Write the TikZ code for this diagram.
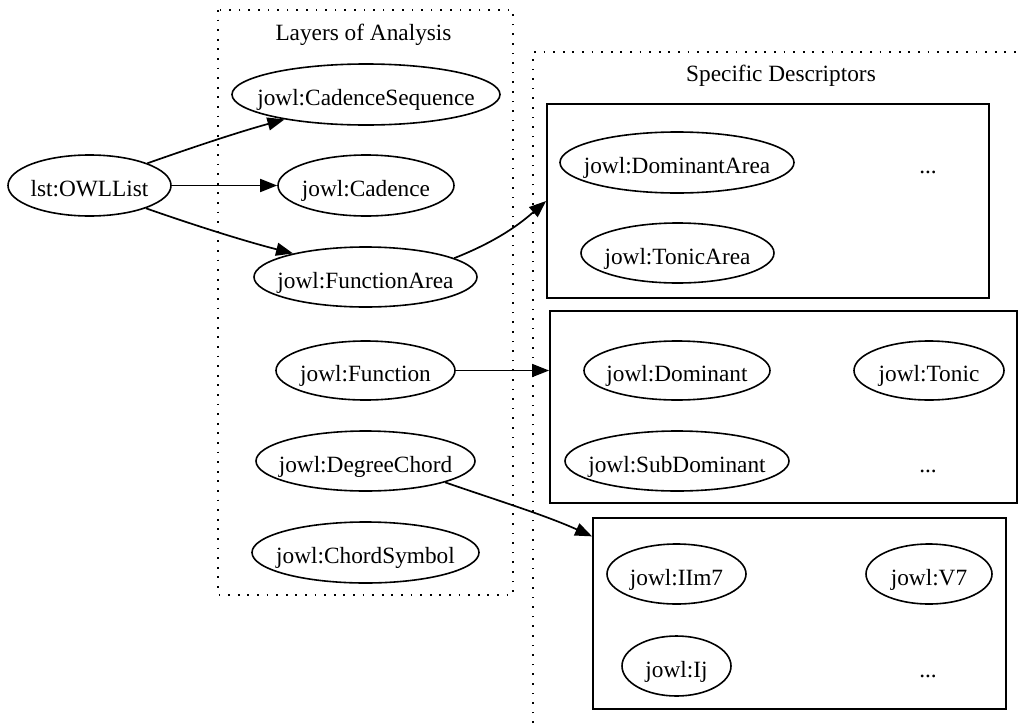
\documentclass[tikz,border=0pt]{standalone}
\usepackage{fontspec}
\setmainfont{Liberation Serif}
\usetikzlibrary{shapes.geometric,arrows.meta,calc}
\newcommand{\ellt}[1]{\makebox[0pt]{#1}}
\begin{document}
\begin{tikzpicture}[x=1pt,y=-1pt,
  every node/.style={font=\fontsize{23.3}{27}\selectfont},
  ell/.style={draw, ellipse, line width=1.6pt, inner sep=0pt, text height=22pt, text depth=0pt},
  plain/.style={inner sep=0pt, text height=22pt, text depth=0pt},
  boxnode/.style={draw, rectangle, line width=1.8pt, inner sep=0pt},
  cluster/.style={line width=1.7pt, dash pattern=on 1.7pt off 7.9pt},
  conn/.style={line width=1.7pt, -{Triangle[length=17pt,width=13pt]}}
]
\useasboundingbox (0,0) rectangle (1019,723);

% clusters
\draw[cluster] (218,10) rectangle (513,595);
\draw[cluster] (533,723) -- (533,52) -- (1019,52);
\node[anchor=base] (t1) at (363.5,40) {Layers of Analysis};
\node[anchor=base] (t2) at (781,81) {Specific Descriptors};

% boxes
\node[boxnode, minimum width=442pt, minimum height=194pt] (b1) at (768,201) {};
\node[boxnode, minimum width=467pt, minimum height=192pt] (b2) at (783.5,407) {};
\node[boxnode, minimum width=413pt, minimum height=191pt] (b3) at (799.5,613.5) {};

% left nodes
\node[ell, minimum width=163pt, minimum height=61pt] (owl) at (89.5,185.5) {\ellt{lst:OWLList}};
\node[ell, minimum width=268pt, minimum height=61pt] (cs) at (366,94.5) {\ellt{jowl:CadenceSequence}};
\node[ell, minimum width=176pt, minimum height=61pt] (cad) at (366,185.5) {\ellt{jowl:Cadence}};
\node[ell, minimum width=223pt, minimum height=60pt] (fa) at (365.5,277) {\ellt{jowl:FunctionArea}};
\node[ell, minimum width=179pt, minimum height=59pt] (fn) at (365.5,370.5) {\ellt{jowl:Function}};
\node[ell, minimum width=219pt, minimum height=60pt] (dc) at (365.5,461) {\ellt{jowl:DegreeChord}};
\node[ell, minimum width=227pt, minimum height=61pt] (chs) at (365.5,552.5) {\ellt{jowl:ChordSymbol}};

% box 1
\node[ell, minimum width=234pt, minimum height=61pt] (da) at (677,162.5) {\ellt{jowl:DominantArea}};
\node[ell, minimum width=193pt, minimum height=60pt] (ta) at (677.5,253) {\ellt{jowl:TonicArea}};
\node[plain] (d1) at (928,162.5) {...};

% box 2
\node[ell, minimum width=186pt, minimum height=59pt] (dom) at (677,370.5) {\ellt{jowl:Dominant}};
\node[ell, minimum width=150pt, minimum height=59pt] (ton) at (929,370.5) {\ellt{jowl:Tonic}};
\node[ell, minimum width=224pt, minimum height=60pt] (sub) at (677,461) {\ellt{jowl:SubDominant}};
\node[plain] (d2) at (928,461) {...};

% box 3
\node[ell, minimum width=139pt, minimum height=60pt] (iim) at (676.5,574) {\ellt{jowl:IIm7}};
\node[ell, minimum width=126pt, minimum height=60pt] (v7) at (929,574) {\ellt{jowl:V7}};
\node[ell, minimum width=109pt, minimum height=60pt] (ij) at (676.5,666) {\ellt{jowl:Ij}};
\node[plain] (d3) at (928,666) {...};

% connectors
\draw[conn] (owl.21) .. controls (185,150) and (235,133) .. (cs.197);
\draw[conn] (owl) -- (cad);
\draw[conn] (owl.-22) .. controls (185,222) and (240,240) .. (fa.162);
\draw[conn] (fa.12) .. controls (500,240) and (522,222) .. (b1.west);
\draw[conn] (fn.east) -- (fn.east -| b2.west);
\draw[conn] (dc.-15) .. controls (493,499) and (545,515) .. ($(b3.north west)!0.1!(b3.south west)$);
\end{tikzpicture}
\end{document}
